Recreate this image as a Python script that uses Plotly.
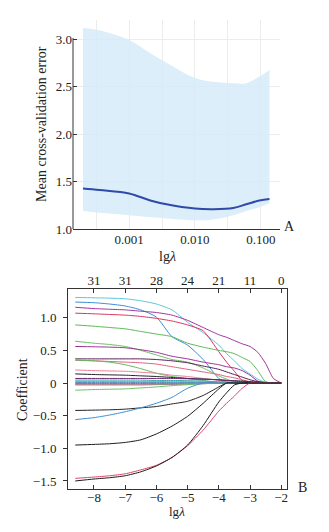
import plotly.graph_objects as go

# ---------------- Panel A data ----------------
LAMBDA = [0.0002, 0.00036, 0.001, 0.0021, 0.0037, 0.01, 0.019, 0.038, 0.06, 0.095, 0.135]
CV_MEAN = [1.427, 1.41, 1.374, 1.30, 1.26, 1.215, 1.208, 1.22, 1.26, 1.30, 1.315]
CV_UPPER = [3.116, 3.09, 2.99, 2.85, 2.75, 2.59, 2.55, 2.535, 2.535, 2.605, 2.675]
CV_LOWER = [1.19, 1.17, 1.145, 1.125, 1.11, 1.092, 1.10, 1.145, 1.19, 1.23, 1.27]
A_TICKVALS = [10 ** -3.5, 0.001, 10 ** -2.5, 0.01, 10 ** -1.5, 0.1]
A_TICKTEXT = ["", "0.001", "", "0.010", "", "0.100"]
A_YTICKS = [1.0, 1.5, 2.0, 2.5, 3.0]
A_YTEXT = ["1.0", "1.5", "2.0", "2.5", "3.0"]

# ---------------- Panel B data ----------------
LG_LAMBDA = [-8.6, -8, -7.5, -7, -6.5, -6, -5.5, -5, -4.5, -4, -3.75, -3.5, -3.25, -3, -2.75, -2.5, -2.25, -2]
COEF = {
    "cyan":       [1.31, 1.305, 1.30, 1.29, 1.26, 1.21, 1.12, 0.93, 0.77, 0.58, 0.45, 0.34, 0.22, 0.14, 0.06, 0.01, 0, 0],
    "blue":       [1.24, 1.23, 1.21, 1.18, 1.12, 1.01, 0.71, 0.58, 0.36, 0.07, 0, 0, 0, 0, 0, 0, 0, 0],
    "purple1":    [1.16, 1.14, 1.13, 1.12, 1.10, 1.08, 1.04, 0.96, 0.85, 0.74, 0.70, 0.65, 0.60, 0.56, 0.47, 0.30, 0.07, 0],
    "red1":       [1.07, 1.06, 1.05, 1.04, 1.02, 0.99, 0.95, 0.89, 0.80, 0.48, 0.32, 0.18, 0.04, 0, 0, 0, 0, 0],
    "green1":     [0.89, 0.87, 0.85, 0.83, 0.79, 0.75, 0.71, 0.61, 0.55, 0.50, 0.48, 0.45, 0.39, 0.33, 0.19, 0.02, 0, 0],
    "green2":     [0.64, 0.61, 0.59, 0.56, 0.50, 0.43, 0.36, 0.32, 0.23, 0.11, 0.06, 0.02, 0, 0, 0, 0, 0, 0],
    "purple2":    [0.56, 0.555, 0.55, 0.54, 0.51, 0.47, 0.41, 0.37, 0.32, 0.28, 0.25, 0.23, 0.19, 0.12, 0.03, 0, 0, 0],
    "darkpurple": [0.37, 0.37, 0.37, 0.37, 0.37, 0.36, 0.34, 0.31, 0.26, 0.21, 0.17, 0.13, 0.09, 0.05, 0.02, 0, 0, 0],
    "pink1":      [0.35, 0.34, 0.33, 0.32, 0.31, 0.29, 0.25, 0.21, 0.17, 0.13, 0.10, 0.08, 0.05, 0.02, 0, 0, 0, 0],
    "green3":     [0.35, 0.34, 0.32, 0.28, 0.22, 0.15, 0.10, 0.07, 0.04, 0, 0, 0, 0, 0, 0, 0, 0, 0],
    "pink2":      [0.20, 0.19, 0.185, 0.18, 0.165, 0.15, 0.12, 0.10, 0.07, 0.04, 0.02, 0, 0, 0, 0, 0, 0, 0],
    "black1":     [0.14, 0.13, 0.125, 0.12, 0.11, 0.10, 0.085, 0.07, 0.06, 0.05, 0.04, 0.035, 0.03, 0.02, 0.015, 0.01, 0.005, 0],
    "darkpurple2":[0.07, 0.07, 0.07, 0.07, 0.07, 0.07, 0.07, 0.065, 0.06, 0.05, 0.04, 0.03, 0.02, 0.01, 0.005, 0, 0, 0],
    "teal":       [0.045, 0.045, 0.045, 0.045, 0.045, 0.04, 0.04, 0.035, 0.03, 0.02, 0.015, 0.01, 0, 0, 0, 0, 0, 0],
    "cyan2":      [0.025, 0.025, 0.025, 0.025, 0.025, 0.025, 0.02, 0.02, 0.015, 0.01, 0.01, 0.005, 0, 0, 0, 0, 0, 0],
    "steel":      [0.01, 0.01, 0.01, 0.01, 0.01, 0.01, 0.01, 0.01, 0.01, 0.005, 0, 0, 0, 0, 0, 0, 0, 0],
    "purple3":    [-0.01, -0.01, -0.01, -0.01, -0.01, -0.01, -0.01, -0.01, -0.005, 0, 0, 0, 0, 0, 0, 0, 0, 0],
    "pink3":      [-0.02, -0.02, -0.02, -0.02, -0.02, -0.02, -0.02, -0.015, -0.01, -0.005, 0, 0, 0, 0, 0, 0, 0, 0],
    "gray":       [-0.03, -0.03, -0.03, -0.03, -0.03, -0.025, -0.02, -0.015, -0.01, 0, 0, 0, 0, 0, 0, 0, 0, 0],
    "green4":     [-0.11, -0.10, -0.095, -0.09, -0.075, -0.06, -0.04, -0.025, -0.01, 0, 0, 0, 0, 0, 0, 0, 0, 0],
    "black2":     [-0.42, -0.415, -0.41, -0.40, -0.38, -0.36, -0.32, -0.28, -0.19, -0.06, 0, 0, 0, 0, 0, 0, 0, 0],
    "blue2":      [-0.56, -0.53, -0.49, -0.44, -0.38, -0.31, -0.22, -0.08, 0, 0, 0, 0, 0, 0, 0, 0, 0, 0],
    "black3":     [-0.95, -0.94, -0.93, -0.91, -0.87, -0.78, -0.66, -0.51, -0.31, -0.09, 0, 0, 0, 0, 0, 0, 0, 0],
    "red2":       [-1.46, -1.44, -1.42, -1.39, -1.33, -1.26, -1.14, -0.96, -0.72, -0.43, -0.31, -0.20, -0.08, 0, 0, 0, 0, 0],
    "black4":     [-1.50, -1.47, -1.45, -1.42, -1.36, -1.27, -1.14, -0.95, -0.65, -0.29, -0.15, -0.03, 0, 0, 0, 0, 0, 0],
}
COLORS = {
    "cyan": "#5cc6dd", "blue": "#3b8fd4", "purple1": "#a2339f", "red1": "#d8365e",
    "green1": "#5cb85a", "green2": "#6cc060", "purple2": "#9c2f96", "darkpurple": "#5a1d5a",
    "pink1": "#e0607f", "green3": "#5fba5a", "pink2": "#ec7f98", "black1": "#222222",
    "darkpurple2": "#6a2470", "teal": "#2aa3a8", "cyan2": "#46c3d8", "steel": "#4a7fb0",
    "purple3": "#9a3a9a", "pink3": "#e66a8a", "gray": "#8a8a8a", "green4": "#6cc060",
    "black2": "#222222", "blue2": "#3b8fd4", "black3": "#1a1a1a", "red2": "#e0456a",
    "black4": "#1a1a1a",
}
B_XTICKS = [-8, -7, -6, -5, -4, -3, -2]
B_XTEXT = ["\u22128", "\u22127", "\u22126", "\u22125", "\u22124", "\u22123", "\u22122"]
B_TOPTEXT = ["31", "31", "28", "24", "21", "11", "0"]
B_YTICKS = [1.0, 0.5, 0, -0.5, -1.0, -1.5]
B_YTEXT = ["1.0", "0.5", "0", "\u22120.5", "\u22121.0", "\u22121.5"]

FONT = "Liberation Serif"
W, H = 329, 532

fig = go.Figure()

# Panel A
fig.add_trace(go.Scatter(x=LAMBDA, y=CV_UPPER, mode="lines", line=dict(width=0, shape="spline"),
                         hoverinfo="skip", showlegend=False, xaxis="x", yaxis="y"))
fig.add_trace(go.Scatter(x=LAMBDA, y=CV_LOWER, mode="lines", line=dict(width=0, shape="spline"),
                         fill="tonexty", fillcolor="rgba(214,235,248,0.85)",
                         hoverinfo="skip", showlegend=False, xaxis="x", yaxis="y"))
fig.add_trace(go.Scatter(x=LAMBDA, y=CV_MEAN, mode="lines",
                         line=dict(color="#2f4aa8", width=2, shape="spline"),
                         showlegend=False, xaxis="x", yaxis="y"))

# Panel B
for name, vals in COEF.items():
    fig.add_trace(go.Scatter(x=LG_LAMBDA, y=vals, mode="lines",
                             line=dict(color=COLORS[name], width=1, shape="spline", smoothing=0.6),
                             showlegend=False, xaxis="x2", yaxis="y2"))
fig.add_trace(go.Scatter(x=[LG_LAMBDA[0]], y=[0], mode="markers", marker=dict(opacity=0),
                         showlegend=False, hoverinfo="skip", xaxis="x3", yaxis="y2"))


def px_x(p):
    return p / W


def px_y(p):
    return 1 - p / H


tick_font = dict(family=FONT, size=13, color="#222")
title_font = dict(family=FONT, size=14, color="#222")


def label(text, x, y, angle=0, font=title_font):
    return dict(text=text, textangle=angle, xref="paper", yref="paper",
                x=px_x(x), y=px_y(y), xanchor="center", yanchor="middle",
                showarrow=False, font=font)


fig.update_layout(
    width=W, height=H,
    margin=dict(l=0, r=0, t=0, b=0, pad=0, autoexpand=False),
    paper_bgcolor="white", plot_bgcolor="white",
    font=dict(family=FONT, size=13, color="#222"),
    xaxis=dict(
        type="log", domain=[px_x(73), px_x(280)], anchor="y", automargin=False,
        range=[-3.85, -0.71],
        tickvals=A_TICKVALS, ticktext=A_TICKTEXT, ticks="",
        ticklabelstandoff=-2,
        showgrid=True, gridcolor="#ececec", gridwidth=1,
        showline=True, linecolor="#333", linewidth=1,
        tickfont=tick_font, zeroline=False,
    ),
    yaxis=dict(
        domain=[px_y(229), px_y(20)], anchor="x", automargin=False,
        range=[1.0, 3.2],
        tickvals=A_YTICKS, ticktext=A_YTEXT,
        ticks="inside", ticklen=4, tickcolor="#333",
        showgrid=True, gridcolor="#ececec", gridwidth=1,
        showline=False, zeroline=False, tickfont=tick_font,
    ),
    xaxis2=dict(
        domain=[px_x(68), px_x(287)], anchor="y2", automargin=False,
        range=[-8.833, -1.814],
        tickvals=B_XTICKS, ticktext=B_XTEXT,
        ticks="inside", ticklen=4, tickcolor="#333",
        ticklabelstandoff=-4,
        showgrid=False, zeroline=False,
        showline=True, linecolor="#333", linewidth=1, mirror=True,
        tickfont=tick_font,
    ),
    xaxis3=dict(
        overlaying="x2", anchor="y2", side="top", automargin=False,
        range=[-8.833, -1.814],
        tickvals=B_XTICKS, ticktext=B_TOPTEXT,
        ticks="inside", ticklen=4, tickcolor="#333",
        showgrid=False, zeroline=False, showline=False,
        tickfont=tick_font,
    ),
    yaxis2=dict(
        domain=[px_y(489), px_y(289)], anchor="x2", automargin=False,
        range=[-1.623, 1.44],
        tickvals=B_YTICKS, ticktext=B_YTEXT,
        ticks="outside", ticklen=4, tickcolor="#333",
        ticklabelstandoff=4,
        showgrid=False, zeroline=False,
        showline=True, linecolor="#333", linewidth=1, mirror=True,
        tickfont=tick_font,
    ),
    shapes=[
        dict(type="line", xref="x domain", yref="y", x0=0, x1=0, y0=1.0, y1=3.01,
             line=dict(color="#333", width=1)),
    ],
    annotations=[
        label("Mean cross-validation error", 42, 124, angle=-90),
        label("lg<i>\u03bb</i>", 167, 257),
        label("Coefficient", 22, 390, angle=-90),
        label("lg<i>\u03bb</i>", 177, 511, font=dict(family=FONT, size=13, color="#222")),
        label("A", 289, 226),
        label("B", 302, 487),
    ],
)

fig.write_html(
    "out.html",
    config={"displayModeBar": False},
    post_script="document.body.style.margin='0';document.body.style.padding='0';",
)
